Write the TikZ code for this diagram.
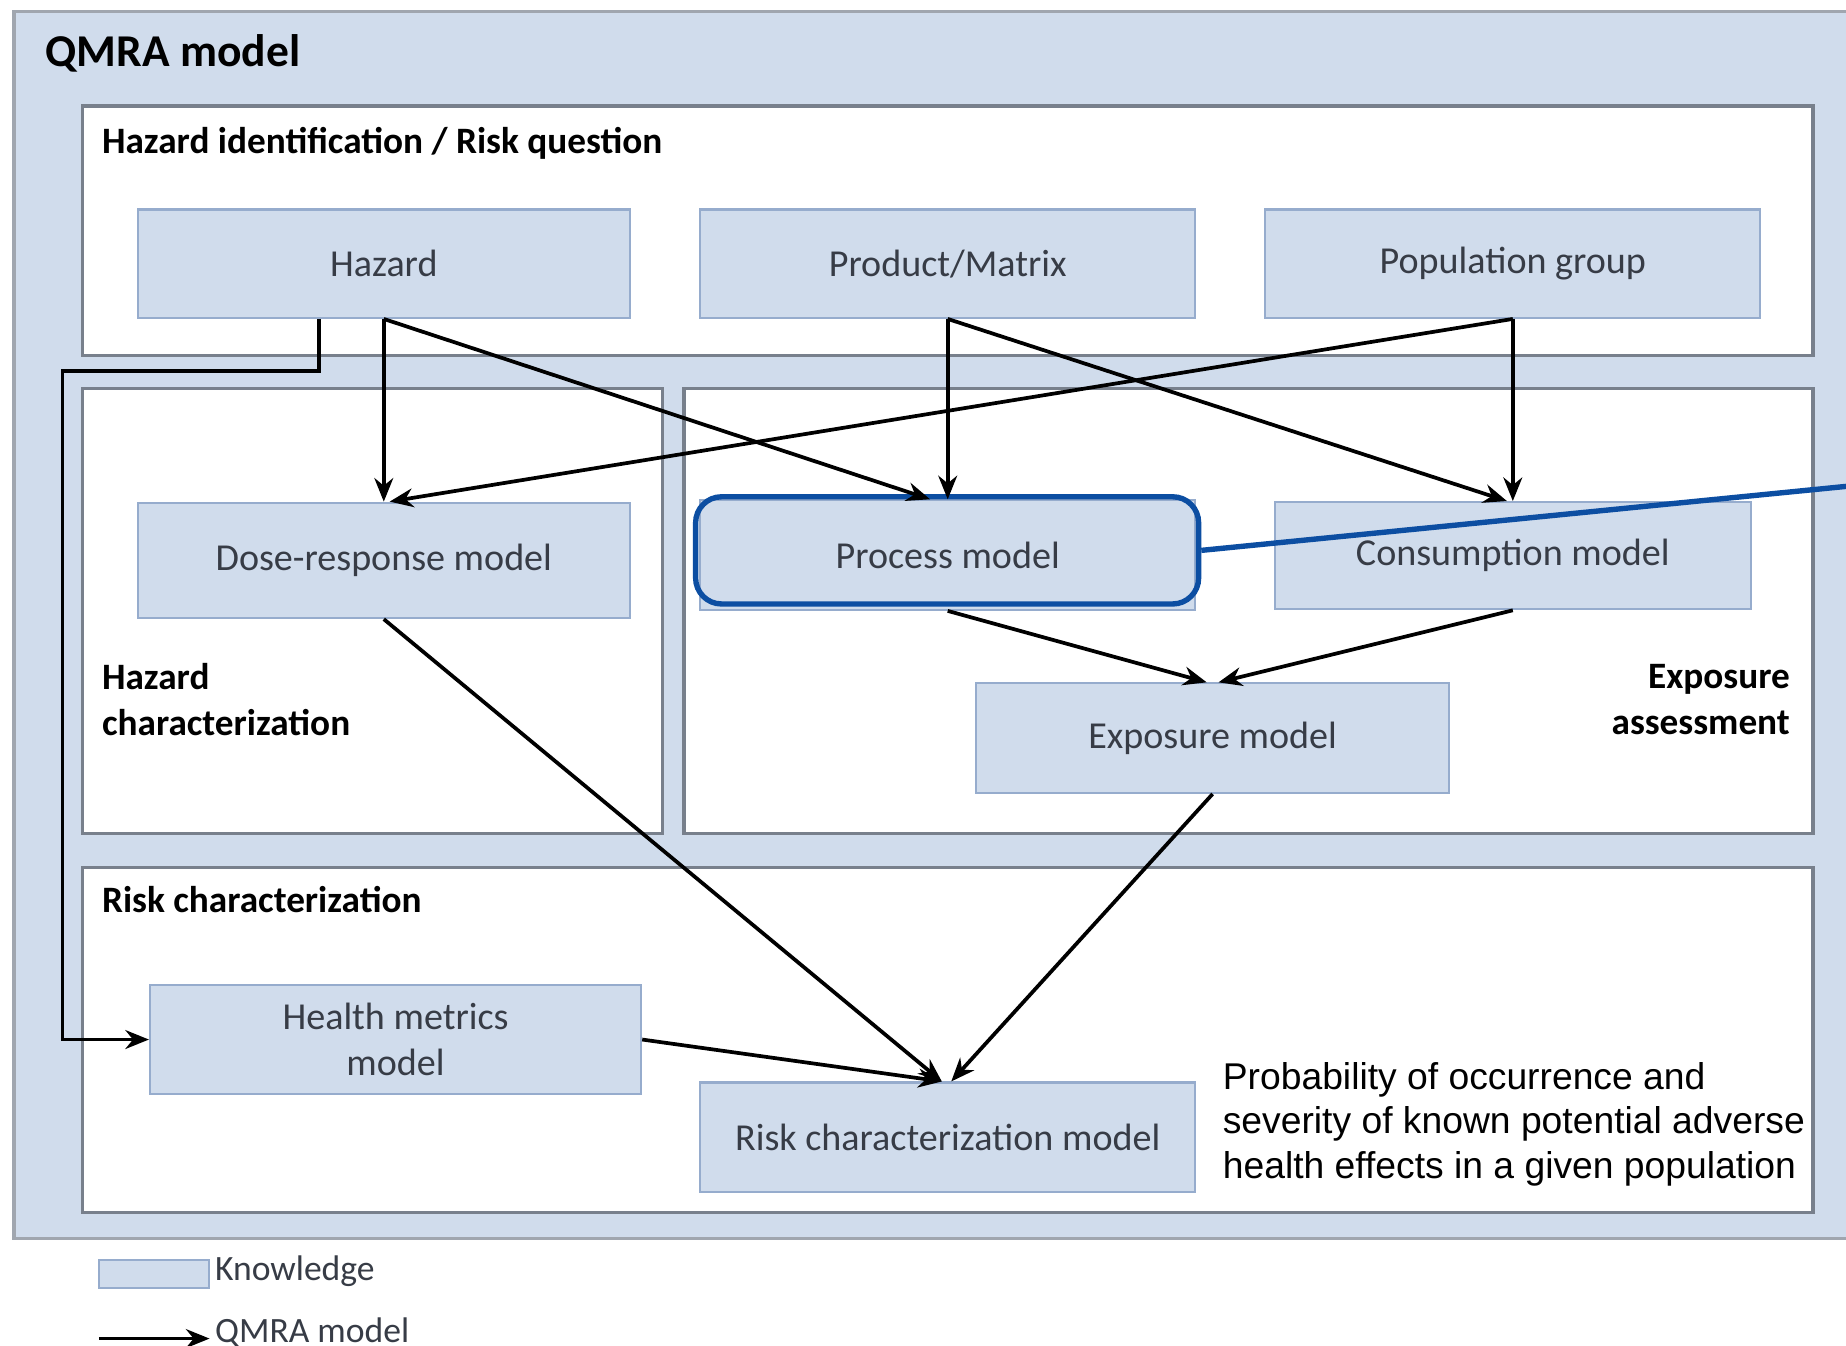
\documentclass[tikz,border=0pt]{standalone}
\usepackage{fontspec}
\setmainfont{Carlito}
\newfontfamily\notefont{Liberation Sans}
\usetikzlibrary{arrows.meta}
\definecolor{knowfill}{RGB}{208,220,236}
\definecolor{knowline}{RGB}{150,172,205}
\definecolor{panelline}{RGB}{120,128,140}
\definecolor{hlblue}{RGB}{12,78,162}
\definecolor{boxtext}{RGB}{55,60,70}
\tikzset{
  know/.style={rectangle, draw=knowline, fill=knowfill, line width=0.5pt, inner sep=2pt, text=boxtext, align=center, font=\fontsize{9.2}{11}\selectfont},
  stage/.style={draw=panelline, fill=white, line width=0.8pt},
  hlbox/.style={rectangle, rounded corners=2.2mm, draw=hlblue, line width=1.3pt, minimum width=4.27cm, minimum height=0.91cm},
  flow/.style={draw=black, line width=0.9pt, -{Stealth[length=2mm,width=1.6mm]}},
  lbl/.style={inner sep=0pt, font=\bfseries\fontsize{9}{11.1}\selectfont}
}

\begin{document}
\begin{tikzpicture}[x=0.01cm, y=-0.01cm]
  \useasboundingbox (0,0) rectangle (1568,1143);
  % panels
  \draw[fill=knowfill, draw=panelline!70, line width=0.8pt] (12,10) rectangle (1620,1052);
  \draw[stage] (70,90) rectangle (1540,302);
  \draw[stage] (70,330) rectangle (563,708);
  \draw[stage] (581,330) rectangle (1540,708);
  \draw[stage] (70,737) rectangle (1540,1030);
  % panel labels
  \node[inner sep=0pt, anchor=west, font=\bfseries\fontsize{11}{13}\selectfont] (title) at (38,45) {QMRA model};
  \node[lbl, anchor=west] (hazid) at (86,122) {Hazard identification / Risk question};
  \node[lbl, anchor=west, align=left] (hazchar) at (86,594) {Hazard\\characterization};
  \node[lbl, anchor=east, align=right] (expass) at (1521,594) {Exposure\\assessment};
  \node[lbl, anchor=west] (riskchar) at (86,764) {Risk characterization};
  % knowledge boxes
  \node[know, minimum width=4.18cm, minimum height=0.92cm] (haz) at (326,224) {Hazard};
  \node[know, minimum width=4.20cm, minimum height=0.92cm] (prod) at (805,224) {Product/Matrix};
  \node[know, minimum width=4.20cm, minimum height=0.92cm] (pop) at (1285,224) {Population group};
  \node[know, minimum width=4.18cm, minimum height=0.98cm] (dose) at (326,476) {Dose-response model};
  \node[know, minimum width=4.20cm, minimum height=0.93cm] (proc) at (805,471.5) {Process model};
  \node[know, minimum width=4.04cm, minimum height=0.91cm] (cons) at (1285,472) {Consumption model};
  \node[know, minimum width=4.02cm, minimum height=0.93cm] (expo) at (1030,627) {Exposure model};
  \node[know, minimum width=4.17cm, minimum height=0.93cm] (health) at (336,883) {Health metrics\\model};
  \node[know, minimum width=4.20cm, minimum height=0.93cm] (risk) at (805,966) {Risk characterization model};
  % highlight
  \node[hlbox] (hl) at (804.5,467.5) {};
  \coordinate (hlend) at (1620,408);
  \draw[hlblue, line width=1.3pt] (hl.east) -- (hlend);
  % arrows
  \coordinate (elb) at (53,315);
  \draw[flow] (haz.south) -- (dose.north);
  \draw[flow] (haz.south) -- ([xshift=-0.15cm]proc.north);
  \draw[flow] ([xshift=-0.55cm]haz.south) |- (elb) |- (health.west);
  \draw[flow] (prod.south) -- (proc.north);
  \draw[flow] (prod.south) -- ([xshift=-0.05cm]cons.north);
  \draw[flow] (pop.south) -- (cons.north);
  \draw[flow] (pop.south) -- ([xshift=0.05cm]dose.north);
  \draw[flow] (dose.south) -- ([xshift=-0.05cm]risk.north);
  \draw[flow] (proc.south) -- ([xshift=-0.05cm]expo.north);
  \draw[flow] (cons.south) -- ([xshift=0.05cm]expo.north);
  \draw[flow] (expo.south) -- ([xshift=0.03cm]risk.north);
  \draw[flow] (health.east) -- ([xshift=-0.05cm]risk.north);
  % note
  \node[anchor=west, align=left, inner sep=0pt, font=\notefont\fontsize{9}{10.8}\selectfont] (note) at (1038,955)
    {Probability of occurrence and\\severity of known potential adverse\\health effects in a given population};
  % legend
  \node[know, minimum width=0.93cm, minimum height=0.24cm, inner sep=0pt] (legbox) at (131,1082) {};
  \node[anchor=west, inner sep=0pt, text=boxtext, font=\fontsize{8.6}{10}\selectfont] (legknow) at (182,1080) {Knowledge};
  \coordinate (legfrom) at (84,1137);
  \coordinate (legto) at (178,1137);
  \draw[flow] (legfrom) -- (legto);
  \node[anchor=west, inner sep=0pt, text=boxtext, font=\fontsize{8.6}{10}\selectfont] (legflow) at (182,1132) {QMRA model};
\end{tikzpicture}
\end{document}
